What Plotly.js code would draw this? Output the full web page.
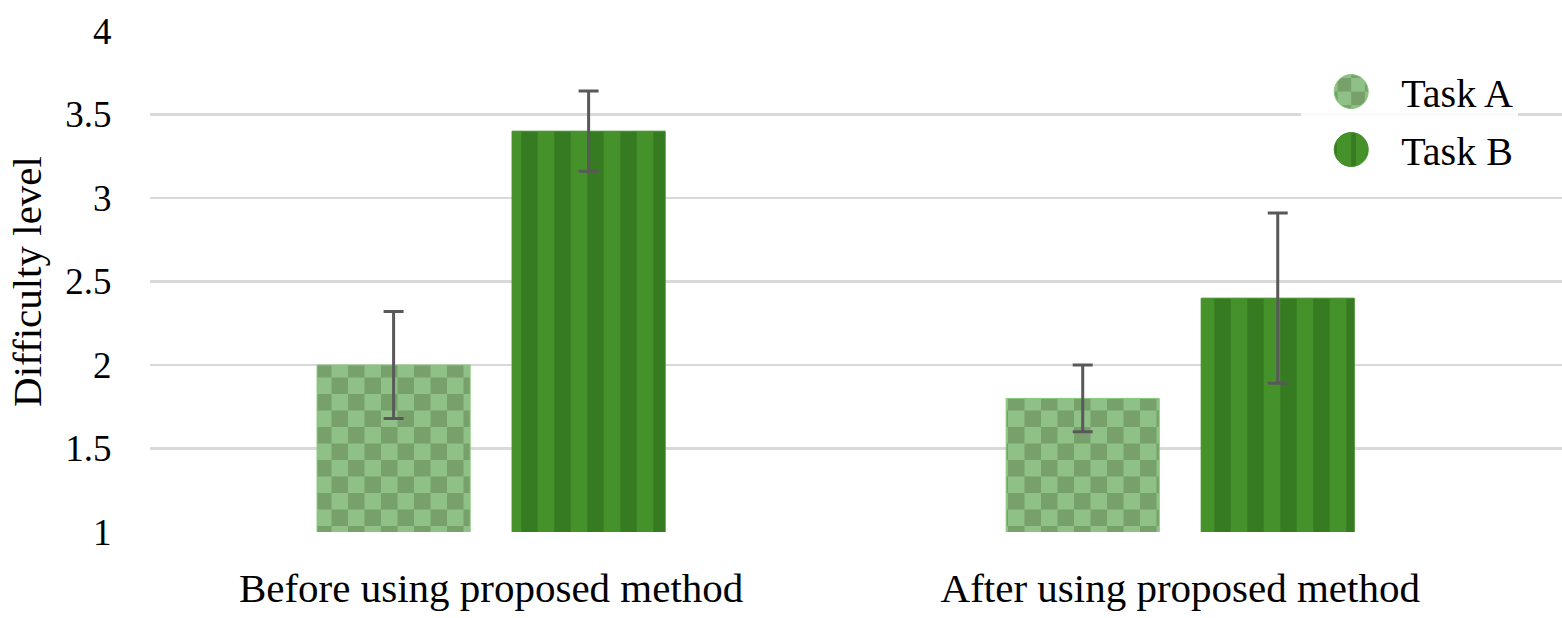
<!DOCTYPE html>
<html>
<head>
<meta charset="utf-8">
<script src="https://cdn.plot.ly/plotly-3.0.1.min.js"></script>
<style>
  html, body { margin: 0; padding: 0; background: #fff; }
  #chart { width: 1562px; height: 618px; }
</style>
</head>
<body>
<div id="chart"></div>
<script>
const categories = ["Before using proposed method", "After using proposed method"];
const taskA = [2.0, 1.8];
const taskAErr = [0.32, 0.2];
const taskB = [3.4, 2.4];
const taskBErr = [0.24, 0.51];
const yTicks = [1, 1.5, 2, 2.5, 3, 3.5, 4];
const yTickLabels = ["1", "1.5", "2", "2.5", "3", "3.5", "4"];

const checkerLight = "#8fc186";
const checkerDark = "#77a06b";
const stripeLight = "#46922a";
const stripeDark = "#367a22";
const errColor = "#595959";
const font = "'Liberation Serif', 'DejaVu Serif', serif";
const tileSize = 33;

const traces = [
  {
    type: "bar", name: "Task A", x: categories, y: taskA,
    legendgroup: "a",
    error_y: { type: "data", array: taskAErr, color: errColor, thickness: 3, width: 10 },
    marker: {
      color: checkerLight,
      line: { color: "#86c77a", width: 1 },
      pattern: { shape: "+", bgcolor: checkerLight, fgcolor: checkerDark, fgopacity: 1, size: tileSize, solidity: 0.5 }
    }
  },
  {
    type: "bar", name: "Task B", x: categories, y: taskB,
    legendgroup: "b",
    error_y: { type: "data", array: taskBErr, color: errColor, thickness: 3, width: 10 },
    marker: {
      color: stripeLight,
      line: { color: "#3f8a27", width: 1 },
      pattern: { shape: "|", bgcolor: stripeLight, fgcolor: stripeDark, fgopacity: 1, size: tileSize, solidity: 0.5 }
    }
  }
];

const layout = {
  width: 1562, height: 618,
  margin: { l: 150, r: 0, t: 31, b: 86 },
  paper_bgcolor: "#fff", plot_bgcolor: "#fff",
  font: { family: font, size: 38, color: "#000" },
  barmode: "group", bargap: 0.434, bargroupgap: 0.215,
  showlegend: true,
  legend: {
    x: 0.969, xanchor: "right", y: 0.944, yanchor: "top",
    bgcolor: "rgba(255,255,255,0.85)", itemwidth: 90,
    tracegroupgap: 3, traceorder: "grouped",
    font: { family: font, size: 40 }
  },
  xaxis: {
    type: "category", range: [-0.495, 1.554],
    showgrid: false, zeroline: false, showline: false,
    ticks: "outside", ticklen: 20, tickcolor: "rgba(0,0,0,0)",
    tickfont: { family: font, size: 41 }
  },
  yaxis: {
    range: [1, 4], tickvals: yTicks, ticktext: yTickLabels,
    showgrid: true, gridcolor: "#d9d9d9", gridwidth: 2.5,
    zeroline: false, showline: false,
    ticks: "outside", ticklen: 30, tickcolor: "rgba(0,0,0,0)",
    tickfont: { family: font, size: 37 },
    title: { text: "Difficulty level", font: { family: font, size: 41 }, standoff: 10 }
  }
};

// plotly has no checkerboard fill: rebuild the '+' tiles as two dark squares
function checker(path, w) {
  const h = w / 2;
  path.setAttribute("d", `M0,0H${h}V${h}H0Z M${h},${h}H${w}V${w}H${h}Z`);
  path.setAttribute("fill", checkerDark);
  path.style.fill = checkerDark;
  path.style.stroke = "none";
  path.setAttribute("stroke", "none");
}

function tweak(gd) {
  const legendPats = new Set();
  gd.querySelectorAll(".legendpoints path").forEach(p => {
    p.setAttribute("d", "M17,0A17,17 0 1,1 -17,0A17,17 0 1,1 17,0Z");
    const m = /#([^'")]+)/.exec(p.style.fill || p.getAttribute("fill") || "");
    if (m) legendPats.add(m[1]);
  });
  gd.querySelectorAll("pattern").forEach(p => {
    const path = p.querySelector("path");
    if (!path) return;
    const isPlus = (path.getAttribute("d").match(/M/g) || []).length >= 2;
    let w = parseFloat(p.getAttribute("width")) || tileSize;
    if (legendPats.has(p.id)) {
      w = isPlus ? 34 : 24;
      p.setAttribute("width", w);
      p.setAttribute("height", w);
      const bg = p.querySelector("rect");
      if (bg) { bg.setAttribute("width", w); bg.setAttribute("height", w); }
      if (!isPlus) {
        path.setAttribute("d", `M0,0V${w}`);
        path.setAttribute("stroke-width", w / 2);
        path.style.strokeWidth = (w / 2) + "px";
      }
    } else if (isPlus) {
      w = tileSize;
      p.setAttribute("width", w);
      p.setAttribute("height", w);
    }
    if (isPlus) checker(path, w);
  });
}

Plotly.newPlot("chart", traces, layout, { staticPlot: true }).then(gd => {
  tweak(gd);
  gd.on("plotly_afterplot", () => tweak(gd));
});
</script>
</body>
</html>
